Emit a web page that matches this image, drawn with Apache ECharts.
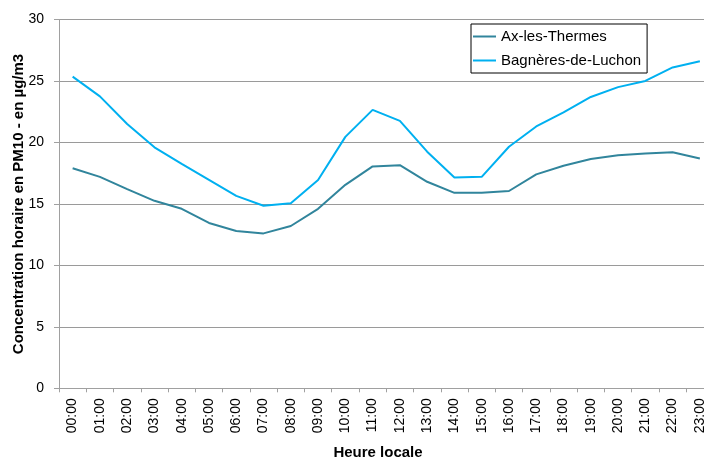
<!DOCTYPE html>
<html>
<head>
<meta charset="utf-8">
<script src="https://cdn.jsdelivr.net/npm/echarts@6/dist/echarts.min.js"></script>
<style>html,body{margin:0;padding:0;background:#fff}#c{width:704px;height:457px}</style>
</head>
<body>
<div id="c"></div>
<script>
const hours = ["00:00","01:00","02:00","03:00","04:00","05:00","06:00","07:00","08:00","09:00","10:00","11:00","12:00","13:00","14:00","15:00","16:00","17:00","18:00","19:00","20:00","21:00","22:00","23:00"];
const axLesThermes = [17.9,17.2,16.2,15.25,14.6,13.45,12.8,12.6,13.2,14.6,16.55,18.05,18.15,16.8,15.9,15.9,16.05,17.4,18.1,18.65,18.95,19.1,19.2,18.7];
const bagneresDeLuchon = [25.35,23.75,21.5,19.6,18.25,16.95,15.65,14.85,15.05,16.95,20.45,22.65,21.75,19.25,17.15,17.2,19.65,21.3,22.45,23.7,24.5,25.0,26.1,26.6];
const yTicks = {min: 0, max: 30, interval: 5};
const yAxisTitle = 'Concentration horaire en PM10 - en µg/m3';
const xAxisTitle = 'Heure locale';

const chart = echarts.init(document.getElementById('c'), null, {renderer: 'canvas'});
const font = 'Liberation Sans, Arial, sans-serif';
chart.setOption({
  animation: false,
  textStyle: {fontFamily: font},
  title: {
    text: xAxisTitle,
    left: 373, top: 440, textAlign: 'center',
    textStyle: {fontSize: 15, fontWeight: 'bold', color: '#000', fontFamily: font}
  },
  graphic: [{
    type: 'text',
    x: 18.5, y: 204,
    rotation: Math.PI / 2,
    style: {
      text: yAxisTitle,
      align: 'center', verticalAlign: 'middle',
      font: 'bold 15px Liberation Sans, Arial, sans-serif',
      fill: '#000'
    }
  }],
  grid: {left: 59, top: 19.5, width: 654.5, bottom: 68.7, containLabel: false, outerBoundsMode: 'none'},
  legend: {
    left: 471, top: 24,
    orient: 'vertical',
    padding: [5, 6, 5, 2],
    icon: 'rect',
    itemWidth: 23, itemHeight: 2, itemGap: 9,
    borderColor: '#000', borderWidth: 1,
    textStyle: {fontSize: 15, lineHeight: 14, color: '#000', fontFamily: font},
    data: ['Ax-les-Thermes', 'Bagnères-de-Luchon']
  },
  xAxis: {
    type: 'category',
    data: hours,
    boundaryGap: true,
    axisLine: {lineStyle: {color: '#a0a0a0', width: 1}},
    axisTick: {show: true, length: 4, interval: 0, lineStyle: {color: '#a0a0a0'}},
    axisLabel: {rotate: 90, interval: 0, margin: 10, fontSize: 14, color: '#000', fontFamily: font}
  },
  yAxis: {
    type: 'value',
    min: yTicks.min, max: yTicks.max, interval: yTicks.interval,
    axisLine: {show: true, lineStyle: {color: '#a0a0a0', width: 1}},
    axisTick: {show: true, length: 5, lineStyle: {color: '#a0a0a0'}},
    axisLabel: {margin: 15, fontSize: 14, color: '#000', fontFamily: font},
    splitLine: {show: true, lineStyle: {color: '#9a9a9a', width: 1}}
  },
  series: [
    {name: 'Ax-les-Thermes', type: 'line', data: axLesThermes, symbol: 'none',
     lineStyle: {color: '#31859C', width: 2}, itemStyle: {color: '#31859C'}},
    {name: 'Bagnères-de-Luchon', type: 'line', data: bagneresDeLuchon, symbol: 'none',
     lineStyle: {color: '#00B0F0', width: 2}, itemStyle: {color: '#00B0F0'}}
  ]
});
</script>
</body>
</html>
